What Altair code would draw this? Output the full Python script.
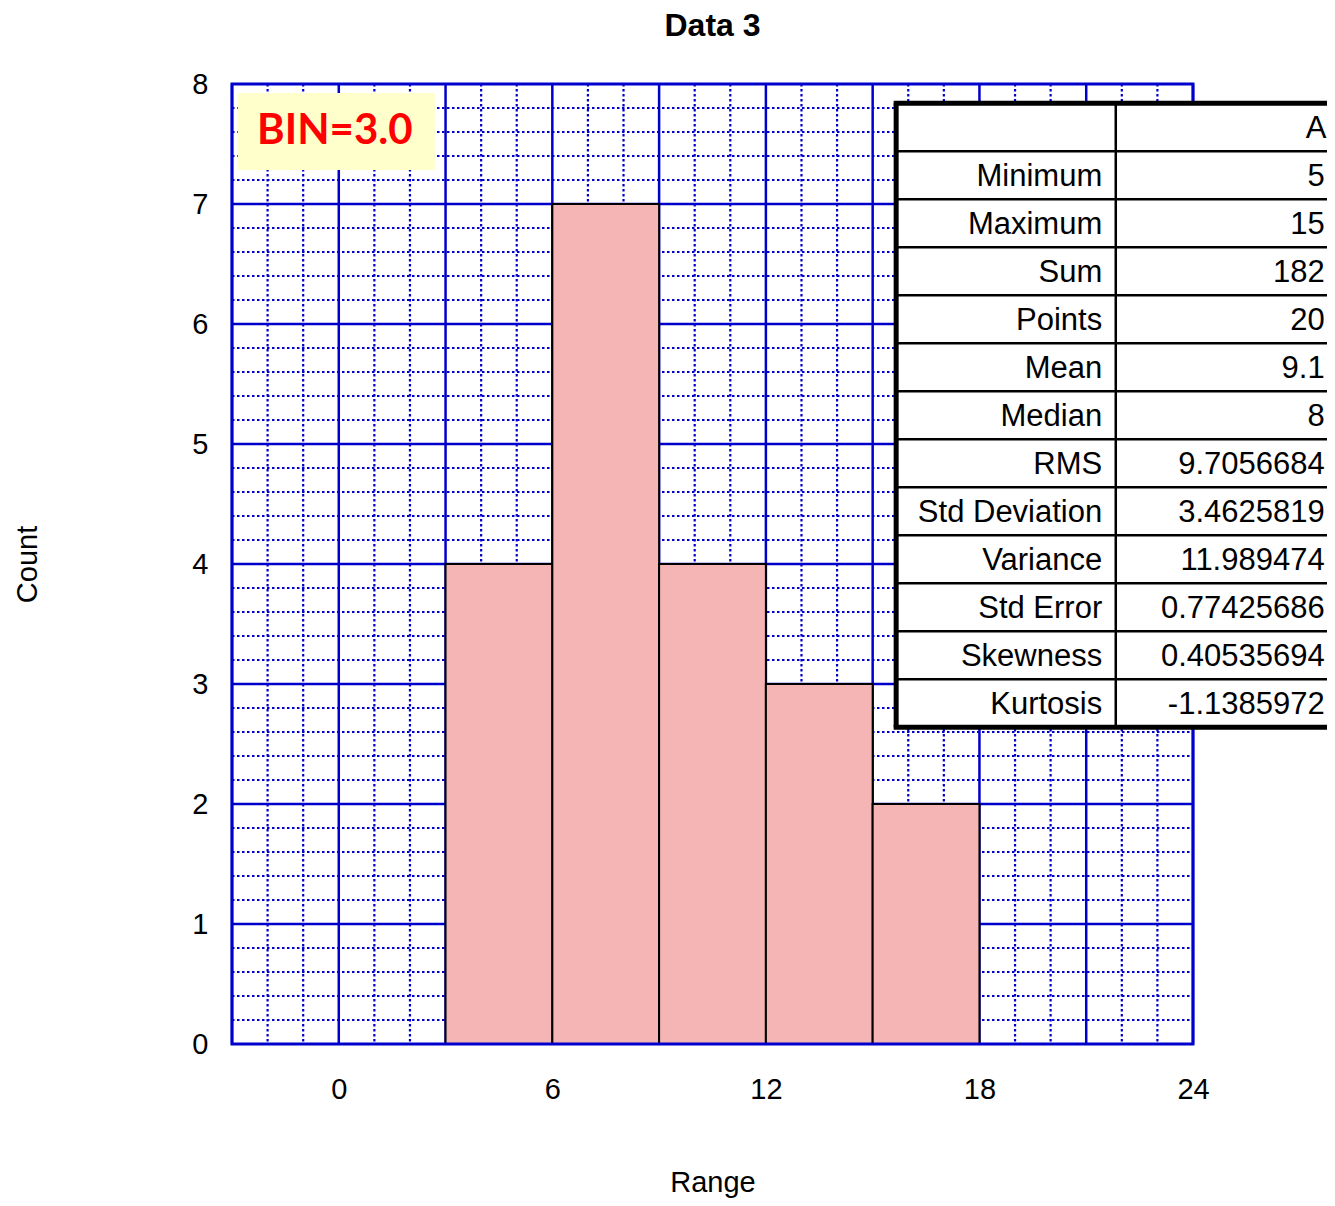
import altair as alt
import pandas as pd

# ---- data ----
bin_start = [3, 6, 9, 12, 15]
bin_end = [6, 9, 12, 15, 18]
counts = [4, 7, 4, 3, 2]

x_tick_values = [0, 6, 12, 18, 24]
y_tick_values = [0, 1, 2, 3, 4, 5, 6, 7, 8]
x_major_grid = [-3, 0, 3, 6, 9, 12, 15, 18, 21, 24]
x_minor_grid = [-2, -1, 1, 2, 4, 5, 7, 8, 10, 11, 13, 14, 16, 17, 19, 20, 22, 23]
y_major_grid = [1, 2, 3, 4, 5, 6, 7]
y_minor_grid = [round(i * 0.2, 1) for i in range(1, 40) if i % 5 != 0]

stat_header = "A"
stat_labels = ["Minimum", "Maximum", "Sum", "Points", "Mean", "Median", "RMS",
               "Std Deviation", "Variance", "Std Error", "Skewness", "Kurtosis"]
stat_values = ["5", "15", "182", "20", "9.1", "8", "9.7056684", "3.4625819",
               "11.989474", "0.77425686", "0.40535694", "-1.1385972"]

bin_label = "BIN=3.0"

BLUE = "#0000cc"
FONT = "Liberation Sans"
XDOM = [-3, 24]
YDOM = [0, 8]

xs = alt.Scale(domain=XDOM, nice=False, zero=False)
ys = alt.Scale(domain=YDOM, nice=False, zero=False)

# ---- grid ----
minor_v = alt.Chart(pd.DataFrame({"x": x_minor_grid})).mark_rule(
    color=BLUE, strokeWidth=2.2, strokeDash=[2.5, 2.5]
).encode(x=alt.X("x:Q", scale=xs), y=alt.value(0), y2=alt.value(960))

minor_h = alt.Chart(pd.DataFrame({"y": y_minor_grid})).mark_rule(
    color=BLUE, strokeWidth=2.2, strokeDash=[2.5, 2.5]
).encode(y=alt.Y("y:Q", scale=ys), x=alt.value(0), x2=alt.value(961))

major_v = alt.Chart(pd.DataFrame({"x": x_major_grid})).mark_rule(
    color=BLUE, strokeWidth=2.5
).encode(x=alt.X("x:Q", scale=xs), y=alt.value(0), y2=alt.value(960))

major_h = alt.Chart(pd.DataFrame({"y": y_major_grid})).mark_rule(
    color=BLUE, strokeWidth=2.5
).encode(y=alt.Y("y:Q", scale=ys), x=alt.value(0), x2=alt.value(961))

# ---- bars ----
bars_df = pd.DataFrame({"start": bin_start, "end": bin_end, "count": counts})
bars = alt.Chart(bars_df).mark_rect(
    fill="#f5b5b5", stroke="black", strokeWidth=2
).encode(
    x=alt.X("start:Q", scale=xs,
            axis=alt.Axis(values=x_tick_values, title="Range", grid=False, domain=False,
                          ticks=False, labelFlush=False, labelFont=FONT, labelFontSize=29,
                          labelColor="black", labelPadding=31, titleFont=FONT, titleFontSize=29,
                          titleFontWeight="normal", titleColor="black", titlePadding=64)),
    x2="end:Q",
    y=alt.Y("count:Q", scale=ys,
            axis=alt.Axis(values=y_tick_values, format="d", title="Count", grid=False,
                          domain=False, ticks=False, labelFont=FONT, labelFontSize=29,
                          labelColor="black", labelPadding=24, titleFont=FONT, titleFontSize=29,
                          titleFontWeight="normal", titleColor="black", titlePadding=149)),
    y2=alt.datum(0),
)

# ---- frame ----
frame = alt.Chart(pd.DataFrame({"a": [0]})).mark_rect(
    fill=None, stroke=BLUE, strokeWidth=3
).encode(x=alt.value(0), x2=alt.value(961), y=alt.value(0), y2=alt.value(960))

# ---- stats table ----
T_LEFT, T_DIV, T_RIGHT = 15.66, 21.83, 28.5
T_TOP, ROW_H = 7.84, 0.4
n_rows = len(stat_labels) + 1
T_BOTTOM = T_TOP - ROW_H * n_rows

table_bg = alt.Chart(pd.DataFrame({"a": [0]})).mark_rect(fill="white").encode(
    x=alt.datum(T_LEFT, scale=xs), x2=alt.datum(T_RIGHT),
    y=alt.datum(T_TOP, scale=ys), y2=alt.datum(T_BOTTOM))

row_lines = alt.Chart(pd.DataFrame({"y": [T_TOP - ROW_H * k for k in range(1, n_rows)]})).mark_rule(
    color="black", strokeWidth=2.5
).encode(y=alt.Y("y:Q", scale=ys), x=alt.datum(T_LEFT, scale=xs), x2=alt.datum(T_RIGHT))

div_line = alt.Chart(pd.DataFrame({"a": [0]})).mark_rule(color="black", strokeWidth=2.5).encode(
    x=alt.datum(T_DIV, scale=xs), y=alt.datum(T_TOP, scale=ys), y2=alt.datum(T_BOTTOM))

outer_h = alt.Chart(pd.DataFrame({"y": [T_TOP, T_BOTTOM]})).mark_rule(
    color="black", strokeWidth=5
).encode(y=alt.Y("y:Q", scale=ys), x=alt.datum(T_LEFT - 0.07, scale=xs), x2=alt.datum(T_RIGHT))

outer_v = alt.Chart(pd.DataFrame({"a": [0]})).mark_rule(color="black", strokeWidth=5).encode(
    x=alt.datum(T_LEFT, scale=xs), y=alt.datum(T_TOP, scale=ys), y2=alt.datum(T_BOTTOM))

row_centers = [T_TOP - ROW_H * (i + 1.5) for i in range(len(stat_labels))]
tbl_df = pd.DataFrame({"label": stat_labels, "value": stat_values, "y": row_centers})

label_text = alt.Chart(tbl_df).mark_text(
    align="right", baseline="middle", font=FONT, fontSize=31, color="black", dy=2
).encode(x=alt.datum(21.45, scale=xs), y=alt.Y("y:Q", scale=ys), text="label:N")

value_text = alt.Chart(tbl_df).mark_text(
    align="right", baseline="middle", font=FONT, fontSize=31, color="black", dy=2
).encode(x=alt.datum(27.7, scale=xs), y=alt.Y("y:Q", scale=ys), text="value:N")

header_text = alt.Chart(pd.DataFrame({"t": [stat_header]})).mark_text(
    align="right", baseline="middle", font=FONT, fontSize=31, color="black", dy=2
).encode(x=alt.datum(27.75, scale=xs), y=alt.datum(T_TOP - ROW_H * 0.5, scale=ys), text="t:N")

# ---- BIN label ----
bin_box = alt.Chart(pd.DataFrame({"a": [0]})).mark_rect(fill="#ffffcc").encode(
    x=alt.datum(-2.84, scale=xs), x2=alt.datum(2.70),
    y=alt.datum(7.925, scale=ys), y2=alt.datum(7.283))

bin_text = alt.Chart(pd.DataFrame({"t": [bin_label]})).mark_text(
    align="center", baseline="middle", font="Lato", fontWeight="bold", fontSize=42, color="#ff0000"
).encode(x=alt.datum(-0.11, scale=xs), y=alt.datum(7.61, scale=ys), text="t:N")

chart = alt.layer(
    minor_v, minor_h, major_v, major_h, bars, frame,
    table_bg, row_lines, div_line, outer_h, outer_v,
    label_text, value_text, header_text, bin_box, bin_text
).properties(
    width=961, height=960,
    title=alt.TitleParams("Data 3", font=FONT, fontSize=32, fontWeight="bold",
                          color="black", anchor="middle", offset=27),
    autosize=alt.AutoSizeParams(type="none"),
    padding={"left": 224, "top": 76, "right": 134, "bottom": 154},
).configure_view(stroke=None)

chart.save("out.html", embed_options={"renderer": "svg", "actions": False})
